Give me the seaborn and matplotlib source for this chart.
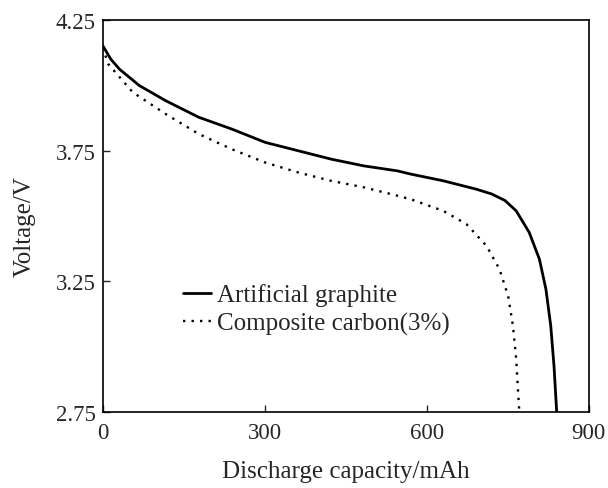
import matplotlib

matplotlib.use("Agg")

import matplotlib.pyplot as plt
import pandas as pd
import seaborn as sns

# discharge curves
graphite_cap = [0, 15, 31, 68, 117, 178, 239, 301, 362, 423, 484, 546, 570, 631, 692, 720,
                745, 766, 790, 809, 821, 830, 836, 841]
graphite_v = [4.152, 4.100, 4.062, 3.999, 3.941, 3.878, 3.833, 3.782, 3.750, 3.718, 3.692,
              3.673, 3.661, 3.635, 3.603, 3.585, 3.560, 3.520, 3.438, 3.335, 3.221, 3.080,
              2.927, 2.75]

composite_cap = [0, 10, 56, 117, 178, 239, 301, 362, 423, 484, 546, 570, 631, 674, 711,
                 735, 751, 760, 766, 771, 772]
composite_v = [4.145, 4.082, 3.973, 3.890, 3.814, 3.756, 3.705, 3.667, 3.635, 3.610, 3.578,
               3.565, 3.520, 3.469, 3.386, 3.297, 3.195, 3.080, 2.953, 2.774, 2.75]

x_ticks = [0, 300, 600, 900]
y_ticks = [2.75, 3.25, 3.75, 4.25]


def main() -> None:
    graphite = pd.DataFrame({"cap": graphite_cap, "v": graphite_v})
    composite = pd.DataFrame({"cap": composite_cap, "v": composite_v})

    sns.set_theme(style="ticks")
    plt.rcParams["font.family"] = ["Liberation Serif", "DejaVu Serif"]

    fig = plt.figure(figsize=(6.08, 4.89), dpi=100)
    ax = fig.add_axes([0.169, 0.155, 0.799, 0.802])

    sns.lineplot(data=graphite, x="cap", y="v", color="black", lw=2.0,
                 sort=False, label="Artificial graphite", ax=ax)
    sns.lineplot(data=composite, x="cap", y="v", color="black", lw=1.7,
                 linestyle=(0, (1, 2.6)), sort=False, label="Composite carbon(3%)", ax=ax)

    ax.set_xlim(0, 900)
    ax.set_ylim(2.75, 4.25)
    ax.set_xticks(x_ticks)
    ax.set_yticks(y_ticks)
    ax.set_yticklabels([f"{t:.2f}" for t in y_ticks])
    ax.tick_params(direction="in", length=5, width=1, labelsize=16.5)
    ax.tick_params(axis="y", pad=5)
    ax.tick_params(axis="x", pad=7)
    for side in ax.spines.values():
        side.set_linewidth(1.2)
        side.set_color("black")

    ax.set_xlabel("Discharge capacity/mAh", fontsize=18, labelpad=12)
    ax.set_ylabel("Voltage/V", fontsize=18)
    ax.yaxis.set_label_coords(-0.137, 0.475)

    ax.legend(loc="lower left", bbox_to_anchor=(0.14, 0.165), frameon=False, borderpad=0,
              fontsize=18, handlelength=1.1, handletextpad=0.25, labelspacing=0.22)

    fig.savefig("out.png", dpi=100)
    plt.close(fig)


if __name__ == "__main__":
    main()
